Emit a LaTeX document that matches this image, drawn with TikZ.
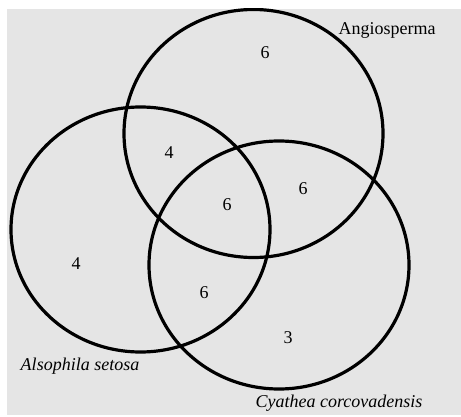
\documentclass[tikz,border=0pt]{standalone}
\usepackage{fontspec}
\setmainfont{Liberation Serif}
\usetikzlibrary{shapes.geometric}
\definecolor{panelgray}{RGB}{229,229,229}

\begin{document}
\begin{tikzpicture}[
        x=1pt, y=-1pt,
        set/.style={draw=black, ellipse, line width=3.2pt, inner sep=0pt},
        count/.style={font=\fontsize{18}{20}\selectfont, inner sep=0pt},
        setname/.style={font=\fontsize{18}{20}\selectfont, inner sep=0pt}
    ]
    \useasboundingbox (0,0) rectangle (461,417);
    \fill[panelgray] (7,9) rectangle (461,415);
    \begin{scope}
    \clip (7,9) rectangle (461,415);
    \node[set, minimum width=259pt, minimum height=248pt] (angio) at (253.5,133.5) {};
    \node[set, minimum width=259pt, minimum height=245pt] (also) at (140.5,229.5) {};
    \node[set, minimum width=260pt, minimum height=248pt] (cyath) at (279,265) {};
    \end{scope}
    % set names
    \node[setname] (angioname) at (387,30) {Angiosperma};
    \node[setname, font=\fontsize{18}{20}\selectfont\itshape] (alsoname) at (80,366) {Alsophila setosa};
    \node[setname, font=\fontsize{18}{20}\selectfont\itshape] (cyathname) at (339,403) {Cyathea corcovadensis};
    % counts
    \node[count] (nangio) at (265,53) {6};
    \node[count] (nangioalso) at (169,153) {4};
    \node[count] (nall) at (227,205) {6};
    \node[count] (nangiocyath) at (303,189) {6};
    \node[count] (nalso) at (76,264) {4};
    \node[count] (nalsocyath) at (204,293) {6};
    \node[count] (ncyath) at (288,338) {3};
\end{tikzpicture}
\end{document}
